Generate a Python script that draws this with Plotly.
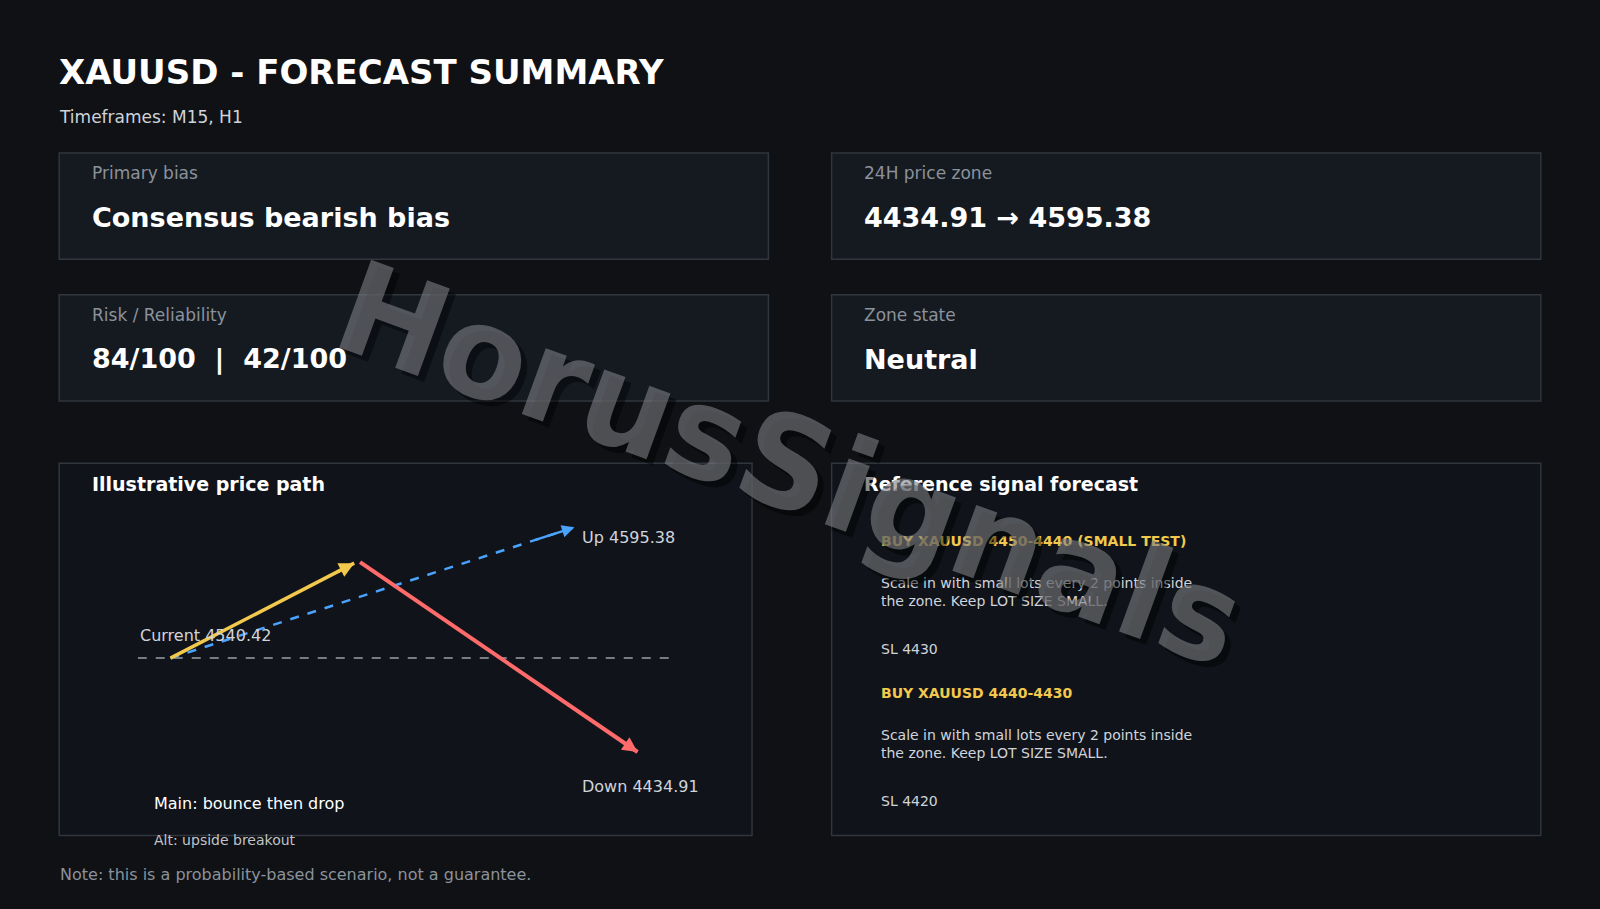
import plotly.graph_objects as go

# page is laid out in reference-image pixels (1568 x 891), scaled by plotly to 1600 x 909
W, H = 1568, 891

title = "XAUUSD - FORECAST SUMMARY"
timeframes = "Timeframes: M15, H1"
card_labels = ["Primary bias", "24H price zone", "Risk / Reliability", "Zone state"]
card_values = ["Consensus bearish bias", "4434.91 → 4595.38", "84/100  |  42/100", "Neutral"]

current_price = 4540.42
up_target = 4595.38
down_target = 4434.91

# illustrative path (0-100 units inside the path panel)
main_x = [6.1, 40.4]
main_y = [44.2, 80.0]
drop_x = [41.5, 93.3]
drop_y = [80.4, 8.8]
alt_x = [6.1, 81.5]
alt_y = [44.2, 93.5]
base_level = 44.2

signals = [
    ("BUY XAUUSD 4450-4440 (SMALL TEST)",
     "Scale in with small lots every 2 points inside<br>the zone. Keep LOT SIZE SMALL.", "SL 4430"),
    ("BUY XAUUSD 4440-4430",
     "Scale in with small lots every 2 points inside<br>the zone. Keep LOT SIZE SMALL.", "SL 4420"),
]

BG = "#0f1115"
CARD = "#151a21"
BORDER = "#30363d"
YELLOW = "#f2c94c"
RED = "#ff6b6b"
BLUE = "#4aa3ff"
FONT = "DejaVu Sans"

fig = go.Figure()
shapes = []
ann = []


def txt(x, y, s, size, color="#ffffff", bold=False, xanchor="left", yanchor="middle"):
    ann.append(dict(x=x, y=y, xref="x", yref="y", text=f"<b>{s}</b>" if bold else s,
                    showarrow=False, xanchor=xanchor, yanchor=yanchor, align="left",
                    font=dict(family=FONT, size=size, color=color)))


def box(x0, y0, x1, y1, fill):
    shapes.append(dict(type="rect", xref="x", yref="y", x0=x0, y0=y0, x1=x1, y1=y1,
                       fillcolor=fill, line=dict(color=BORDER, width=1.5), layer="below"))


txt(56, 71, title, 34, bold=True)
txt(56, 115, timeframes, 17, "#d0d4da")

cards = [(58, 150, 753, 254), (815, 150, 1510, 254), (58, 289, 753, 393), (815, 289, 1510, 393)]
for (x0, y0, x1, y1), lab, val in zip(cards, card_labels, card_values):
    box(x0, y0, x1, y1, CARD)
    txt(x0 + 30, y0 + 20, lab, 17, "#8b929b")
    txt(x0 + 30, y0 + 63, val, 27, bold=True)

box(58, 454, 737, 819, "#10141a")
box(815, 454, 1510, 819, "#10141a")
txt(88, 474, "Illustrative price path", 19, bold=True)
txt(845, 474, "Reference signal forecast", 19, bold=True)

sy = 530
for head, body, sl in signals:
    txt(861, sy, head, 14, YELLOW, bold=True)
    txt(861, sy + 50, body, 14, "#d0d4da")
    txt(861, sy + 106, sl, 14, "#d0d4da")
    sy += 149

txt(149, 788, "Main: bounce then drop", 16)
txt(149, 823, "Alt: upside breakout", 14, "#c0c4ca")
txt(57, 857, "Note: this is a probability-based scenario, not a guarantee.", 16, "#8b929b")

# watermark with shadow
for dx, col in [(6, "rgba(0,0,0,0.45)"), (0, "rgba(125,127,131,0.6)")]:
    ann.append(dict(x=775 + dx, y=455 + dx, xref="x", yref="y", text="<b>HorusSignals</b>",
                    showarrow=False, textangle=20, font=dict(family=FONT, size=128, color=col)))

# price path panel on its own axes
fig.add_trace(go.Scatter(x=[0, 100], y=[base_level, base_level], mode="lines", xaxis="x2", yaxis="y2",
                         line=dict(color="#9aa0a8", width=1.5, dash="dash"), hoverinfo="skip"))
fig.add_trace(go.Scatter(x=alt_x, y=alt_y, mode="lines", xaxis="x2", yaxis="y2",
                         line=dict(color=BLUE, width=2.5, dash="dash"), hoverinfo="skip"))
fig.add_trace(go.Scatter(x=main_x, y=main_y, mode="lines", xaxis="x2", yaxis="y2",
                         line=dict(color=YELLOW, width=3.5), hoverinfo="skip"))
fig.add_trace(go.Scatter(x=drop_x, y=drop_y, mode="lines", xaxis="x2", yaxis="y2",
                         line=dict(color=RED, width=4), hoverinfo="skip"))

for xs, ys, col in [(alt_x, alt_y, BLUE), (main_x, main_y, YELLOW), (drop_x, drop_y, RED)]:
    f = 0.9
    ann.append(dict(x=xs[1], y=ys[1], ax=xs[0] + f * (xs[1] - xs[0]), ay=ys[0] + f * (ys[1] - ys[0]),
                    xref="x2", yref="y2", axref="x2", ayref="y2", text="", showarrow=True,
                    arrowhead=2, arrowsize=1, arrowwidth=3 if col != BLUE else 2.5, arrowcolor=col))

for x, y, s in [(0, 52.7, f"Current {current_price:.2f}"), (82.5, 89.6, f"Up {up_target:.2f}"),
                (82.5, -4.2, f"Down {down_target:.2f}")]:
    ann.append(dict(x=x, y=y, xref="x2", yref="y2", text=s, showarrow=False, xanchor="left",
                    font=dict(family=FONT, size=16, color="#d0d4da")))

fig.update_layout(
    width=1600, height=909, margin=dict(l=0, r=0, t=0, b=0),
    paper_bgcolor=BG, plot_bgcolor="rgba(0,0,0,0)", showlegend=False,
    shapes=shapes, annotations=ann,
    xaxis=dict(range=[0, W], domain=[0, 1], visible=False, fixedrange=True),
    yaxis=dict(range=[H, 0], domain=[0, 1], visible=False, fixedrange=True),
    xaxis2=dict(range=[0, 100], domain=[135 / W, 660 / W], visible=False, anchor="y2"),
    yaxis2=dict(range=[-12, 100], domain=[1 - 791.2 / H, 1 - 500 / H], visible=False, anchor="x2"),
)

fig.write_html("out.html", config={"displayModeBar": False},
               post_script="document.body.style.margin='0';"
               "document.body.style.background='#0f1115';")
